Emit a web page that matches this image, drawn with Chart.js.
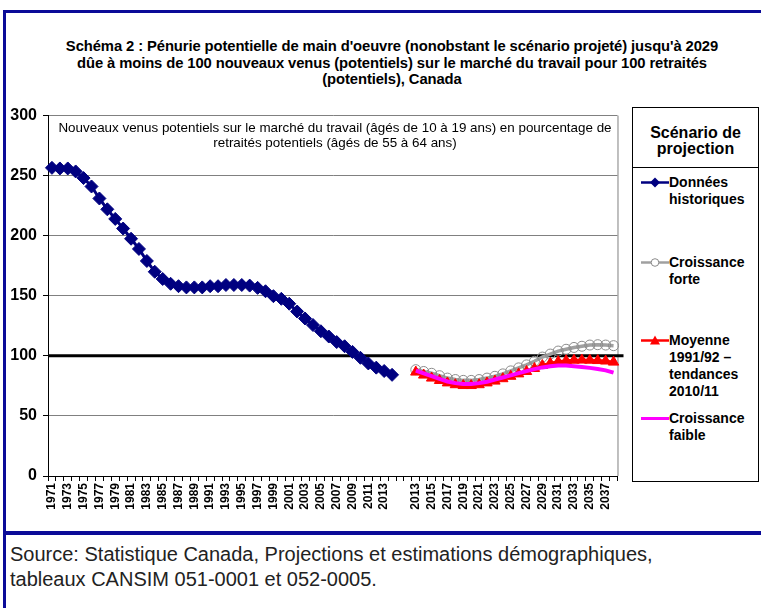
<!DOCTYPE html>
<html>
<head>
<meta charset="utf-8">
<script src="https://cdn.jsdelivr.net/npm/chart.js@4.4.1/dist/chart.umd.min.js"></script>
<style>
  body { margin: 0; width: 761px; height: 608px; background: #fff; position: relative; overflow: hidden;
         font-family: "Liberation Sans", Arial, sans-serif; color: #000; }
  .bar { position: absolute; background: #0b0b98; }
  #title { position: absolute; left: 10px; width: 764px; top: 38px; text-align: center;
           font-weight: bold; font-size: 14.8px; line-height: 16.5px; letter-spacing: -0.1px; }
  #note { position: absolute; left: 44px; width: 582px; top: 120px; text-align: center;
          font-size: 13.4px; line-height: 15px; }
  #wrap { position: absolute; left: 0; top: 100px; width: 630px; height: 420px; }
  .box { position: absolute; left: 632px; width: 125px; border: 1px solid #000; background: #fff; }
  #legTitle { top: 107px; height: 59px; font-weight: bold; font-size: 16px; line-height: 16px; text-align: center; }
  #legTitle div { padding-top: 17px; }
  #legBody { top: 167px; height: 313px; }
  .item { position: absolute; left: 8px; }
  .item svg { position: absolute; left: 0; top: 2px; }
  .item span { position: absolute; left: 28px; top: 0; width: 95px; font-weight: bold; font-size: 14px; line-height: 17px; }
  #source { position: absolute; left: 10px; top: 542px; font-size: 20px; line-height: 25px; color: #222; }
</style>
</head>
<body>
<div class="bar" style="left:3px;top:10px;width:758px;height:3px"></div>
<div class="bar" style="left:3px;top:10px;width:3px;height:598px"></div>
<div class="bar" style="left:3px;top:531px;width:758px;height:4px"></div>

<div id="title">Schéma 2 : Pénurie potentielle de main d'oeuvre (nonobstant le scénario projeté) jusqu'à 2029<br>dûe à moins de 100 nouveaux venus (potentiels) sur le marché du travail pour 100 retraités<br>(potentiels), Canada</div>

<div id="wrap"><canvas id="chart" width="630" height="420"></canvas></div>

<div id="note">Nouveaux venus potentiels sur le marché du travail (âgés de 10 à 19 ans) en pourcentage de<br>retraités potentiels (âgés de 55 à 64 ans)</div>

<div class="box" id="legTitle"><div>Scénario de<br>projection</div></div>
<div class="box" id="legBody">
  <div class="item" style="top:6px">
    <svg width="28" height="13"><line x1="0" y1="6.5" x2="28" y2="6.5" stroke="#000080" stroke-width="2.5"/><polygon points="14,1.5 19,6.5 14,11.5 9,6.5" fill="#000080"/></svg>
    <span>Données historiques</span>
  </div>
  <div class="item" style="top:86px">
    <svg width="28" height="13"><line x1="0" y1="6.5" x2="28" y2="6.5" stroke="#a0a0a0" stroke-width="2.5"/><circle cx="14" cy="6.5" r="3.8" fill="#fff" stroke="#8c8c8c" stroke-width="1"/></svg>
    <span>Croissance forte</span>
  </div>
  <div class="item" style="top:164px">
    <svg width="28" height="13"><line x1="0" y1="6.5" x2="28" y2="6.5" stroke="#ff0000" stroke-width="2.5"/><polygon points="14,1.5 19,10.5 9,10.5" fill="#ff0000"/></svg>
    <span>Moyenne 1991/92 – tendances 2010/11</span>
  </div>
  <div class="item" style="top:242px">
    <svg width="28" height="13"><line x1="0" y1="6.5" x2="28" y2="6.5" stroke="#ff00ff" stroke-width="3"/></svg>
    <span>Croissance faible</span>
  </div>
</div>

<div id="source">Source: Statistique Canada, Projections et estimations démographiques,<br>tableaux CANSIM 051-0001 et 052-0005.</div>

<script>
const histYears = ['1971','1972','1973','1974','1975','1976','1977','1978','1979','1980',
  '1981','1982','1983','1984','1985','1986','1987','1988','1989','1990',
  '1991','1992','1993','1994','1995','1996','1997','1998','1999','2000',
  '2001','2002','2003','2004','2005','2006','2007','2008','2009','2010',
  '2011','2012','2013','2014']
const gapLabels = ['', '']
const projYears = ['2013','2014','2015','2016','2017','2018','2019','2020','2021','2022',
  '2023','2024','2025','2026','2027','2028','2029','2030','2031','2032',
  '2033','2034','2035','2036','2037','2038']

const historique = [256.5, 256, 256, 253.5, 248, 241, 231, 222, 214, 206,
  197.5, 189, 179, 170, 164, 160, 158, 157, 157, 157,
  158, 158, 159, 159, 159, 158.5, 156.6, 153.8, 149.7, 147.5,
  143.4, 136.9, 131.1, 125.7, 120.5, 116.1, 111.5, 108, 103.3, 98.4,
  93.7, 90.2, 87.4, 84.2]
const forte = [88.5, 87, 85.5, 83.5, 81.5, 80.3, 79.6, 79.6, 80.3, 81.5,
  83, 85, 87.5, 90, 92.5, 95.5, 99, 101.5, 104, 105.5,
  107, 108, 109, 109.3, 109, 108.5]
const moyenne = [86.5, 84, 81.5, 79.5, 77.5, 76, 75.3, 75.3, 76, 77.5,
  79, 81, 83, 85, 87, 89.5, 92, 93.8, 95.2, 96,
  96.4, 96.5, 96.4, 96.1, 95.7, 94.8]
const faible = [87.8, 85.5, 83.2, 80.8, 78.7, 77.3, 76.6, 76.6, 77.3, 78.5,
  80.3, 82, 83.8, 85.6, 87.3, 89, 90.4, 91.3, 91.9, 91.9,
  91.4, 90.8, 90, 89.1, 87.9, 86]
const seuil = 100

const labels = [...histYears, ...gapLabels, ...projYears]
const tail = new Array(gapLabels.length + projYears.length).fill(null)
const lead = new Array(histYears.length + gapLabels.length).fill(null)

// black line at 100 + grey right border of the plot
const extras = {
  id: 'extras',
  beforeDatasetsDraw(chart) {
    const { ctx, chartArea, scales } = chart
    const y = scales.y.getPixelForValue(seuil)
    ctx.save()
    ctx.strokeStyle = '#808080'
    ctx.lineWidth = 1
    ctx.beginPath()
    ctx.moveTo(chartArea.right + 0.5, chartArea.top)
    ctx.lineTo(chartArea.right + 0.5, chartArea.bottom)
    ctx.stroke()
    ctx.strokeStyle = '#000'
    ctx.lineWidth = 3
    ctx.beginPath()
    ctx.moveTo(chartArea.left, y)
    ctx.lineTo(chartArea.right + 6, y)
    ctx.stroke()
    ctx.restore()
  }
}

new Chart(document.getElementById('chart'), {
  type: 'line',
  data: {
    labels: labels,
    datasets: [
      {
        label: 'Données historiques',
        data: historique.concat(tail),
        borderColor: '#000080',
        backgroundColor: '#000080',
        borderWidth: 3,
        pointStyle: 'rectRot',
        pointRadius: 6.5,
        pointBorderWidth: 1,
        order: 4,
      },
      {
        label: 'Croissance forte',
        data: lead.concat(forte),
        borderColor: '#a0a0a0',
        borderWidth: 3.5,
        pointStyle: 'circle',
        pointRadius: 5,
        pointBorderColor: '#8c8c8c',
        pointBackgroundColor: 'rgba(255,255,255,0)',
        pointBorderWidth: 1,
        order: 3,
      },
      {
        label: 'Moyenne 1991/92 – tendances 2010/11',
        data: lead.concat(moyenne),
        borderColor: '#ff0000',
        backgroundColor: '#ff0000',
        borderWidth: 3,
        pointStyle: 'triangle',
        pointRadius: 6,
        pointBorderWidth: 1,
        order: 2,
      },
      {
        label: 'Croissance faible',
        data: lead.concat(faible),
        borderColor: '#ff00ff',
        borderWidth: 4,
        pointRadius: 0,
        order: 1,
      },
    ],
  },
  options: {
    responsive: false,
    animation: false,
    layout: { padding: { top: 10, right: 8, left: 0, bottom: 0 } },
    plugins: { legend: { display: false }, tooltip: { enabled: false } },
    scales: {
      x: {
        offset: true,
        grid: { drawOnChartArea: false, offset: true, tickLength: 5, color: '#000' },
        border: { color: '#000' },
        ticks: {
          autoSkip: false,
          minRotation: 90,
          maxRotation: 90,
          padding: 2,
          color: '#000',
          font: { family: 'Liberation Sans', size: 12, weight: 'bold' },
          callback: function (value, index) {
            return index % 2 === 0 ? this.getLabelForValue(value) : ''
          },
        },
        afterFit: scale => { scale.height = 44 },
      },
      y: {
        min: 0,
        max: 300,
        ticks: {
          stepSize: 50,
          padding: 6,
          color: '#000',
          font: { family: 'Liberation Sans', size: 16, weight: 'bold' },
        },
        grid: { color: '#808080', tickColor: '#000', tickLength: 5 },
        border: { color: '#000' },
        afterFit: scale => { scale.width = 48 },
      },
    },
  },
  plugins: [extras],
})
</script>
</body>
</html>
